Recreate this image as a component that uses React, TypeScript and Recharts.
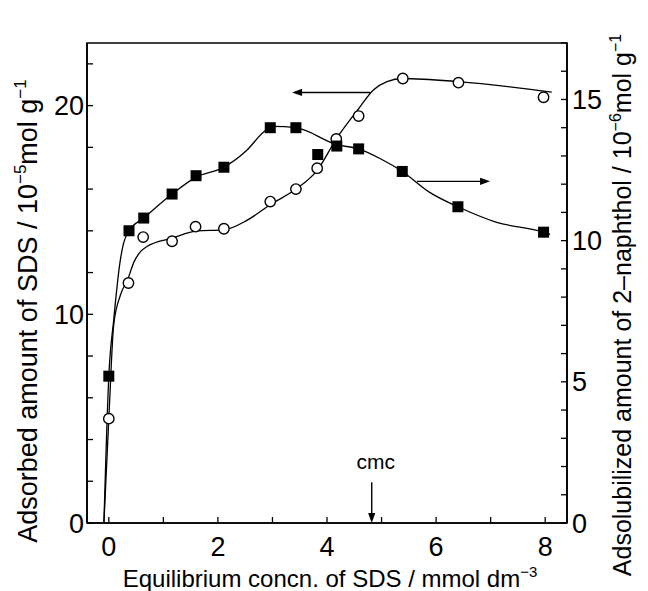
import React from "react";
import {
  ComposedChart,
  Line,
  Scatter,
  XAxis,
  YAxis,
  ReferenceArea,
  ReferenceLine,
} from "recharts";

// SDS adsorbed (left axis, open circles)
const sdsX = [0, 0.36, 0.63, 1.16, 1.59, 2.11, 2.96, 3.43, 3.82, 4.17, 4.58, 5.39, 6.41, 7.97];
const sdsY = [5.0, 11.5, 13.7, 13.5, 14.2, 14.1, 15.4, 16.0, 17.0, 18.4, 19.5, 21.3, 21.1, 20.4];

// 2-naphthol adsolubilized (right axis, filled squares)
const napX = [0, 0.37, 0.64, 1.16, 1.6, 2.11, 2.96, 3.43, 3.83, 4.18, 4.58, 5.38, 6.4, 7.97];
const napY = [5.2, 10.35, 10.8, 11.65, 12.3, 12.6, 14.0, 14.0, 13.05, 13.35, 13.25, 12.45, 11.2, 10.3];

// hand-drawn guide curves
const sdsFitX = [-0.09, 0, 0.09, 0.21, 0.35, 0.46, 0.58, 0.7, 1.16, 1.62, 2.11, 2.53, 2.96, 3.43, 3.82, 4.17, 4.58, 4.85, 5.1, 5.39, 6.41, 8.12];
const sdsFitY = [0, 5.0, 9.5, 10.9, 11.7, 12.5, 13.0, 13.25, 13.65, 14.0, 14.05, 14.5, 15.25, 16.0, 16.9, 18.4, 19.85, 20.75, 21.15, 21.3, 21.15, 20.65];
const napFitX = [-0.09, 0, 0.09, 0.21, 0.27, 0.37, 0.64, 1.16, 1.6, 2.11, 2.53, 2.84, 3.02, 3.43, 4.18, 4.58, 4.98, 5.38, 5.89, 6.4, 7.11, 7.97, 8.09];
const napFitY = [0, 5.2, 7.2, 9.3, 9.9, 10.35, 10.8, 11.65, 12.25, 12.6, 13.2, 13.85, 14.05, 14.0, 13.4, 13.25, 12.9, 12.45, 11.7, 11.2, 10.65, 10.3, 10.22];

// ticks
const xTicks = [0, 1, 2, 3, 4, 5, 6, 7, 8];
const leftTicks = [0, 2, 4, 6, 8, 10, 12, 14, 16, 18, 20, 22];
const rightTicks = [0, 1, 2, 3, 4, 5, 6, 7, 8, 9, 10, 11, 12, 13, 14, 15, 16, 17];

// annotations
const cmcValue = 4.82;
const leftArrow = { from: 4.79, to: 3.36, y: 20.63 };
const rightArrow = { from: 5.65, to: 6.99, y: 12.1 };

const zip = (xs: number[], ys: number[]) => xs.map((x, i) => ({ x, y: ys[i] }));
const sdsPts = zip(sdsX, sdsY);
const napPts = zip(napX, napY);
const sdsFit = zip(sdsFitX, sdsFitY);
const napFit = zip(napFitX, napFitY);

const FONT = "'Liberation Sans', Arial, Helvetica, sans-serif";
const TICK = { fontSize: 27, fill: "#000", fontFamily: FONT };

const OpenCircle = (p: any) => (
  <circle cx={p.cx} cy={p.cy} r={5.2} fill="#fff" stroke="#000" strokeWidth={1.4} />
);
const FilledSquare = (p: any) => (
  <rect x={p.cx - 5.5} y={p.cy - 5.5} width={11} height={11} fill="#000" />
);

const Arrow = (p: any) => {
  const { x1, y1, x2, y2 } = p;
  const ang = Math.atan2(y2 - y1, x2 - x1);
  const len = 10;
  const half = 3.6;
  const bx = x2 - len * Math.cos(ang);
  const by = y2 - len * Math.sin(ang);
  const nx = -Math.sin(ang) * half;
  const ny = Math.cos(ang) * half;
  return (
    <g>
      <line x1={x1} y1={y1} x2={bx} y2={by} stroke="#000" strokeWidth={1.4} />
      <polygon
        points={`${x2},${y2} ${bx + nx},${by + ny} ${bx - nx},${by - ny}`}
        fill="#000"
      />
    </g>
  );
};

const CmcArrow = (p: any) => (
  <g>
    <Arrow {...p} />
    <text
      x={p.x1 + 4}
      y={p.y1 - 13}
      textAnchor="middle"
      fontSize={21}
      fontFamily={FONT}
      fill="#000"
    >
      cmc
    </text>
  </g>
);

const XTitle = (props: any) => {
  const vb = props.viewBox || { x: 87, y: 523, width: 480, height: 68 };
  return (
    <text
      x={vb.x + vb.width / 2 + 3}
      y={vb.y + 64}
      textAnchor="middle"
      fontSize={24}
      fontFamily={FONT}
      fill="#000"
    >
      Equilibrium concn. of SDS / mmol dm
      <tspan dy={-10} fontSize={15}>−3</tspan>
    </text>
  );
};

const LeftTitle = (props: any) => {
  const vb = props.viewBox || { x: 0, y: 43, width: 87, height: 480 };
  const cx = vb.x + 37;
  const cy = vb.y + vb.height / 2 + 28;
  return (
    <text
      x={cx}
      y={cy}
      transform={`rotate(-90, ${cx}, ${cy})`}
      textAnchor="middle"
      fontSize={27}
      fontFamily={FONT}
      fill="#000"
    >
      Adsorbed amount of SDS / 10
      <tspan dy={-11} fontSize={17}>−5</tspan>
      <tspan dy={11}>mol g</tspan>
      <tspan dy={-11} fontSize={17}>−1</tspan>
    </text>
  );
};

const RightTitle = (props: any) => {
  const vb = props.viewBox || { x: 567, y: 43, width: 81, height: 480 };
  const cx = vb.x + 64;
  const cy = vb.y + vb.height / 2 + 22;
  return (
    <text
      x={cx}
      y={cy}
      transform={`rotate(-90, ${cx}, ${cy})`}
      textAnchor="middle"
      fontSize={25}
      fontFamily={FONT}
      fill="#000"
    >
      Adsolubilized amount of 2–naphthol / 10
      <tspan dy={-10} fontSize={16}>−6</tspan>
      <tspan dy={10}>mol g</tspan>
      <tspan dy={-10} fontSize={16}>−1</tspan>
    </text>
  );
};

export default function App() {
  return (
    <div
      style={{
        position: "absolute",
        left: 0,
        top: 0,
        width: 648,
        height: 591,
        background: "#fff",
        fontFamily: FONT,
      }}
    >
      <ComposedChart
        width={648}
        height={591}
        margin={{ top: 43, right: 0, bottom: 0, left: 0 }}
      >
        <XAxis
          dataKey="x"
          type="number"
          domain={[-0.4, 8.4]}
          allowDataOverflow
          ticks={xTicks}
          interval={0}
          height={68}
          tick={TICK}
          tickSize={-6}
          tickMargin={20}
          tickLine={{ stroke: "#000", strokeWidth: 1.3 }}
          axisLine={{ stroke: "#000", strokeWidth: 1.6 }}
          tickFormatter={(v: number) => (v % 2 === 0 ? String(v) : "")}
          label={(p: any) => <XTitle {...p} />}
        />
        <YAxis
          yAxisId="left"
          orientation="left"
          type="number"
          domain={[0, 23]}
          allowDataOverflow
          ticks={leftTicks}
          interval={0}
          width={87}
          tick={TICK}
          tickSize={-6}
          tickMargin={9}
          tickLine={{ stroke: "#000", strokeWidth: 1.3 }}
          axisLine={{ stroke: "#000", strokeWidth: 1.6 }}
          tickFormatter={(v: number) => (v % 10 === 0 ? String(v) : "")}
          label={(p: any) => <LeftTitle {...p} />}
        />
        <YAxis
          yAxisId="right"
          orientation="right"
          type="number"
          domain={[0, 17]}
          allowDataOverflow
          ticks={rightTicks}
          interval={0}
          width={81}
          tick={TICK}
          tickSize={-6}
          tickMargin={11}
          tickLine={{ stroke: "#000", strokeWidth: 1.3 }}
          axisLine={{ stroke: "#000", strokeWidth: 1.6 }}
          tickFormatter={(v: number) => (v % 5 === 0 ? String(v) : "")}
          label={(p: any) => <RightTitle {...p} />}
        />

        <ReferenceArea
          yAxisId="left"
          x1={-0.4}
          x2={8.4}
          y1={0}
          y2={23}
          fill="none"
          fillOpacity={0}
          stroke="#000"
          strokeWidth={1.6}
        />

        <Line
          data={sdsFit}
          yAxisId="left"
          dataKey="y"
          type="monotone"
          stroke="#000"
          strokeWidth={1.3}
          dot={false}
          activeDot={false}
          isAnimationActive={false}
        />
        <Line
          data={napFit}
          yAxisId="right"
          dataKey="y"
          type="monotone"
          stroke="#000"
          strokeWidth={1.3}
          dot={false}
          activeDot={false}
          isAnimationActive={false}
        />
        <Scatter
          data={sdsPts}
          yAxisId="left"
          dataKey="y"
          shape={OpenCircle}
          isAnimationActive={false}
        />
        <Scatter
          data={napPts}
          yAxisId="right"
          dataKey="y"
          shape={FilledSquare}
          isAnimationActive={false}
        />

        <ReferenceLine
          yAxisId="left"
          segment={[
            { x: leftArrow.from, y: leftArrow.y },
            { x: leftArrow.to, y: leftArrow.y },
          ]}
          shape={Arrow}
        />
        <ReferenceLine
          yAxisId="right"
          segment={[
            { x: rightArrow.from, y: rightArrow.y },
            { x: rightArrow.to, y: rightArrow.y },
          ]}
          shape={Arrow}
        />
        <ReferenceLine
          yAxisId="left"
          segment={[
            { x: cmcValue, y: 1.95 },
            { x: cmcValue, y: 0 },
          ]}
          shape={CmcArrow}
        />
      </ComposedChart>
    </div>
  );
}
